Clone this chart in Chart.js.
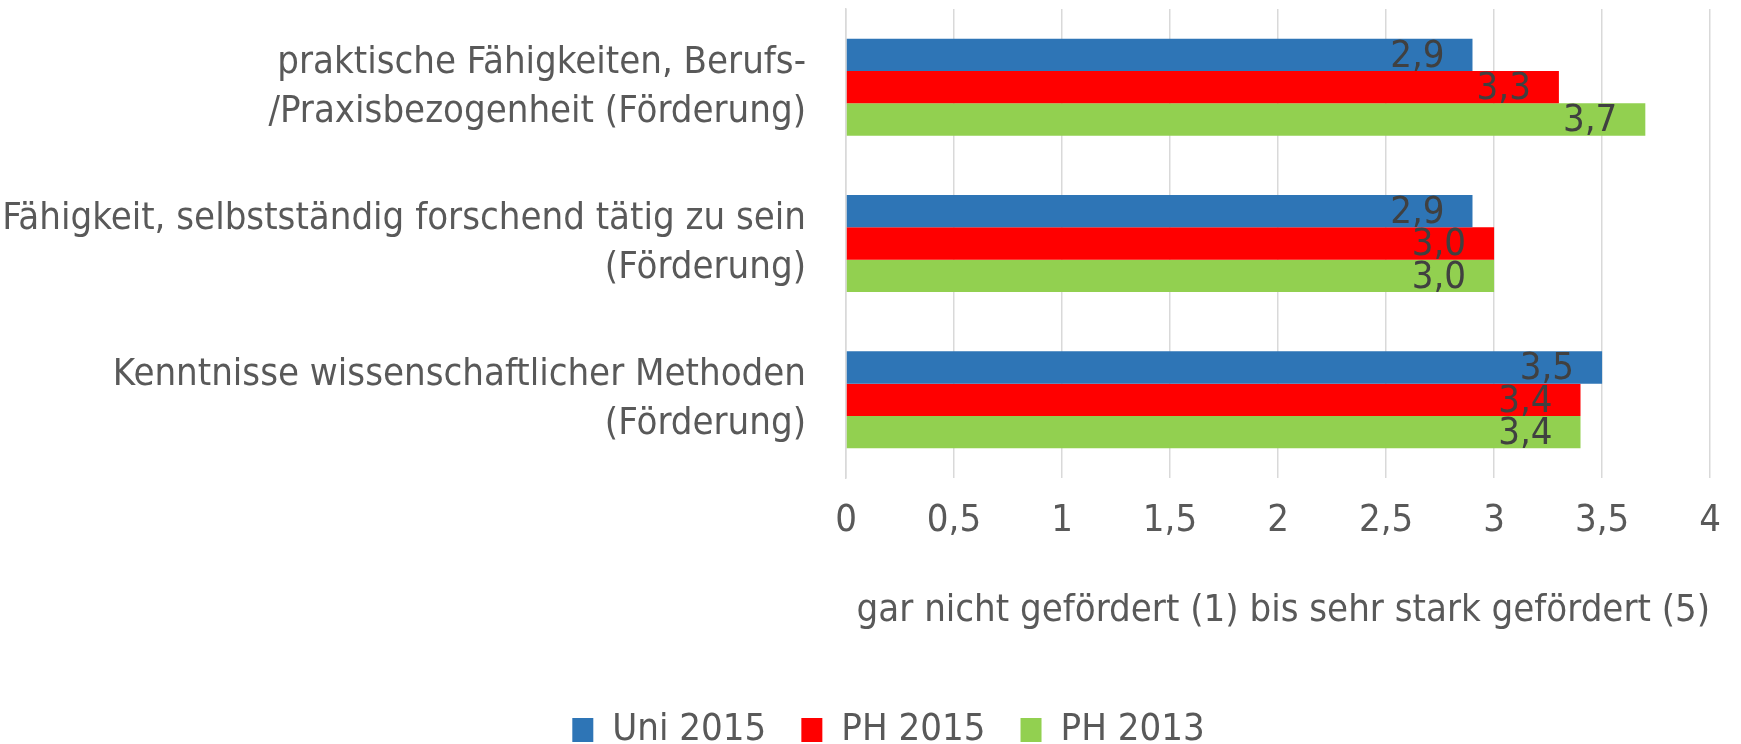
<!DOCTYPE html>
<html>
<head>
<meta charset="utf-8">
<script src="https://cdn.jsdelivr.net/npm/chart.js@4/dist/chart.umd.min.js"></script>
<style>
  body { margin: 0; background: #fff; }
</style>
</head>
<body>
<canvas id="barChart" width="1741" height="744"></canvas>
<script>
const categories = [
  ["praktische Fähigkeiten, Berufs-", "/Praxisbezogenheit (Förderung)"],
  ["Fähigkeit, selbstständig forschend tätig zu sein", "(Förderung)"],
  ["Kenntnisse wissenschaftlicher Methoden", "(Förderung)"],
];
const uni2015 = [2.9, 2.9, 3.5];
const ph2015 = [3.3, 3.0, 3.4];
const ph2013 = [3.7, 3.0, 3.4];
const xTicks = [0, 0.5, 1, 1.5, 2, 2.5, 3, 3.5, 4];

const FONT = "'Liberation Sans Narrow', 'DejaVu Sans Condensed', 'Roboto Condensed', Roboto, sans-serif";
const fmt = (v) => v.toLocaleString("de-DE", { minimumFractionDigits: 1, maximumFractionDigits: 1 });

// values written inside the bar end, like the Excel "inside end" labels
const barLabels = {
  id: "barLabels",
  afterDatasetsDraw(chart) {
    const c = chart.ctx;
    c.save();
    c.font = "38px " + FONT;
    c.fillStyle = "#404040";
    c.textAlign = "right";
    c.textBaseline = "middle";
    chart.data.datasets.forEach((ds, i) => {
      chart.getDatasetMeta(i).data.forEach((bar, j) => {
        c.fillText(fmt(ds.data[j]), bar.x - 28, bar.y + 2);
      });
    });
    c.restore();
  },
};

// legend in the original sits a bit right of the canvas centre
const legendShift = {
  id: "legendShift",
  afterLayout(chart) {
    chart.legend.left += 31;
    chart.legend.right += 31;
  },
};

const ctx = document.getElementById("barChart").getContext("2d");
const barChart = new Chart(ctx, {
  type: "bar",
  data: {
    labels: categories,
    datasets: [
      { label: "Uni 2015", data: uni2015, backgroundColor: "#2E75B6" },
      { label: "PH 2015", data: ph2015, backgroundColor: "#FF0000" },
      { label: "PH 2013", data: ph2013, backgroundColor: "#92D050" },
    ],
  },
  options: {
    indexAxis: "y",
    responsive: false,
    animation: false,
    categoryPercentage: 0.62,
    barPercentage: 1,
    layout: { padding: { top: 9, right: 26, left: 0, bottom: 0 } },
    scales: {
      x: {
        min: 0,
        max: 4,
        afterBuildTicks: (scale) => {
          scale.ticks = xTicks.map((v) => ({ value: v }));
        },
        afterFit: (scale) => {
          scale.height = 198;
        },
        grid: { color: "#d9d9d9", lineWidth: 1.5, drawTicks: false },
        border: { display: false },
        ticks: {
          color: "#595959",
          font: { family: FONT, size: 38 },
          padding: 20,
          callback: (v) => String(v).replace(".", ","),
        },
        title: {
          display: true,
          align: "end",
          text: "gar nicht gefördert (1) bis sehr stark gefördert (5)",
          color: "#595959",
          font: { family: FONT, size: 38 },
          padding: { top: 0, bottom: 42 },
        },
      },
      y: {
        afterFit: (scale) => {
          scale.width = 846;
          scale.paddingTop = 0;
          scale.paddingBottom = 0;
        },
        grid: { display: false },
        border: { color: "#d9d9d9", width: 1.5 },
        ticks: {
          color: "#595959",
          font: { family: FONT, size: 38, lineHeight: 1.29 },
          padding: 32,
        },
      },
    },
    plugins: {
      legend: {
        position: "bottom",
        maxHeight: 68,
        labels: {
          color: "#595959",
          font: { family: FONT, size: 38 },
          boxWidth: 21,
          boxHeight: 24,
          padding: 35,
        },
      },
      tooltip: { enabled: false },
    },
  },
  plugins: [barLabels, legendShift],
});
</script>
</body>
</html>
